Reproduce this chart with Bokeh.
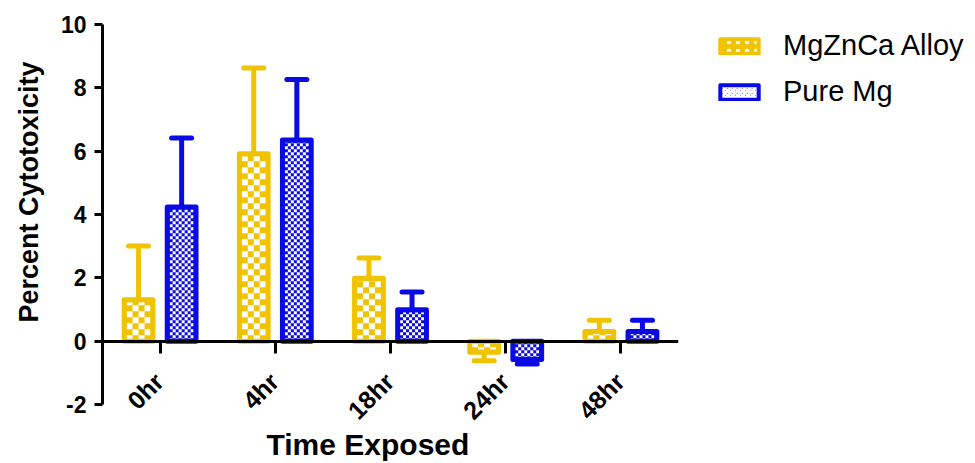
import math
import numpy as np
from bokeh.plotting import figure
from bokeh.models import (ColumnDataSource, FactorRange, Range1d, FixedTicker,
                          Legend, LegendItem, Title, CustomJSTickFormatter)
from bokeh.core.properties import value
from bokeh.transform import dodge
from bokeh.embed import file_html
from bokeh.resources import INLINE

# ---- data ----
categories = ["0hr", "4hr", "18hr", "24hr", "48hr"]
alloy_mean = [1.31, 5.92, 1.99, -0.35, 0.31]
alloy_err_end = [3.01, 8.63, 2.63, -0.62, 0.66]
pure_mean = [4.24, 6.35, 0.99, -0.58, 0.31]
pure_err_end = [6.42, 8.26, 1.55, -0.72, 0.66]
y_ticks = [-2, 0, 2, 4, 6, 8, 10]
y_tick_labels = ["-2", "0", "2", "4", "6", "8", "10"]
series_names = ["MgZnCa Alloy", "Pure Mg"]
x_title = "Time Exposed"
y_title = "Percent Cytotoxicity"

# ---- style ----
YELLOW = "#F0C300"
BLUE = "#0A0AE6"
FONT = "Liberation Sans"
FRAME_W, FRAME_H = 576, 400
Y_MIN, Y_MAX = -2.63, 10
OFF = 0.187       # dodge of each series (category units)
BW = 0.25         # bar width (category units)
LW = 5            # bar outline width (px)
CAT_PX = FRAME_W / len(categories)
Y_PX = FRAME_H / (Y_MAX - Y_MIN)

src_a = ColumnDataSource(dict(cat=categories, val=alloy_mean, err=alloy_err_end))
src_p = ColumnDataSource(dict(cat=categories, val=pure_mean, err=pure_err_end))

p = figure(x_range=FactorRange(*categories), y_range=Range1d(Y_MIN, Y_MAX),
           frame_width=FRAME_W, frame_height=FRAME_H,
           min_border_left=102, min_border_top=24, min_border_bottom=39,
           min_border_right=297,
           output_backend="svg", toolbar_location=None)
p.outline_line_color = None
p.grid.visible = False
p.background_fill_color = "white"
p.border_fill_color = "white"


def checker_cells(vals, sign, cell_px):
    """White checker cells inside each bar, derived from the bar values."""
    xs, ys, ws, hs = [], [], [], []
    inner_w = BW * CAT_PX - LW
    ncols = max(1, int(round(inner_w / cell_px)))
    for i, v in enumerate(vals):
        cx = i + 0.5 + sign * OFF
        inner_h = abs(v) * Y_PX - LW / 2
        nrows = int(math.ceil(max(inner_h, 0) / cell_px))
        direction = 1 if v >= 0 else -1
        for j in range(nrows):
            y0 = j * cell_px
            y1 = min((j + 1) * cell_px, inner_h)
            for k in range(ncols):
                if (j + k) % 2 == 0:
                    xs.append(cx + (k - (ncols - 1) / 2) * cell_px / CAT_PX)
                    ys.append(direction * (y0 + y1) / 2 / Y_PX)
                    ws.append(cell_px / CAT_PX)
                    hs.append((y1 - y0) / Y_PX)
    return dict(x=xs, y=ys, w=ws, h=hs)


legend_proxies = []
for src, vals, color, sign, cell, hp, hs in [
        (src_a, alloy_mean, YELLOW, -1, 6, "dot", 9),
        (src_p, pure_mean, BLUE, 1, 3, "criss_cross", 5)]:
    xd = dodge("cat", sign * OFF, range=p.x_range)
    # error bars (one-sided)
    p.segment(x0=xd, y0="val", x1=xd, y1="err", source=src,
              line_color=color, line_width=5)
    p.scatter(x=xd, y="err", source=src, marker="dash", size=20,
              line_color=color, line_width=5, line_cap="round")
    # bar fill
    p.vbar(x=xd, top="val", bottom=0, width=BW, source=src,
           fill_color=color, line_color=None)
    # checker pattern
    p.rect(x="x", y="y", width="w", height="h",
           source=ColumnDataSource(checker_cells(vals, sign, cell)),
           fill_color="white", line_color=None)
    # bar outline
    p.vbar(x=xd, top="val", bottom=0, width=BW, source=src,
           fill_color=None, line_color=color, line_width=LW, line_join="round")
    # legend swatch proxy (not drawn in the plot)
    proxy = p.vbar(x=xd, top="val", bottom=0, width=BW, source=src,
                   fill_color=color, line_color=color, line_width=4,
                   line_join="round", hatch_pattern=hp, hatch_color="white",
                   hatch_scale=hs, hatch_weight=2, visible=False)
    legend_proxies.append(proxy)

# category tick labels (rotated, placed under the zero line)
p.text(x="cat", y=0, text="cat", source=src_a, angle=math.pi / 4,
       x_offset=-1, y_offset=36, text_align="right", text_baseline="middle",
       text_font=value(FONT), text_font_style="bold", text_font_size="25px",
       text_color="black")

# y axis
ya = p.yaxis[0]
ya.ticker = FixedTicker(ticks=y_ticks)
ya.major_label_overrides = dict(zip(y_ticks, y_tick_labels))
ya.bounds = (-2, 10)
ya.axis_label = None
ya.major_label_text_font = FONT
ya.major_label_text_font_style = "bold"
ya.major_label_text_font_size = "23px"
ya.major_label_standoff = 8
ya.major_tick_out = 8
ya.major_tick_in = 0
ya.minor_tick_out = 0
ya.minor_tick_in = 0
ya.axis_line_width = 3
ya.major_tick_line_width = 3
ya.axis_line_color = "black"
ya.major_tick_line_color = "black"
ya.major_label_text_color = "black"

# x axis (drawn at y = 0); its labels are drawn by the text glyph above
xa = p.xaxis[0]
xa.fixed_location = 0
xa.formatter = CustomJSTickFormatter(code="return ''")
xa.major_tick_out = 12
xa.major_tick_in = 0
xa.axis_line_width = 3
xa.major_tick_line_width = 3
xa.axis_line_color = "black"
xa.major_tick_line_color = "black"

p.add_layout(Title(text=x_title, align="left", offset=164,
                   text_font=FONT, text_font_style="bold", text_font_size="30px",
                   text_color="black", standoff=2), "below")
p.add_layout(Title(text=y_title, align="left", offset=102, vertical_align="top",
                   text_font=FONT, text_font_style="bold", text_font_size="27px",
                   text_color="black", standoff=23), "left")

legend = Legend(items=[LegendItem(label=series_names[0], renderers=[legend_proxies[0]]),
                       LegendItem(label=series_names[1], renderers=[legend_proxies[1]])],
                location=(37, 316),
                glyph_width=48, glyph_height=18, label_standoff=20,
                label_text_font=FONT, label_text_font_size="29px",
                label_text_color="black",
                spacing=13, padding=0, margin=0, inactive_fill_alpha=0,
                border_line_color=None, background_fill_alpha=0)
p.add_layout(legend, "right")

open("out.html", "w").write(file_html(p, INLINE))
